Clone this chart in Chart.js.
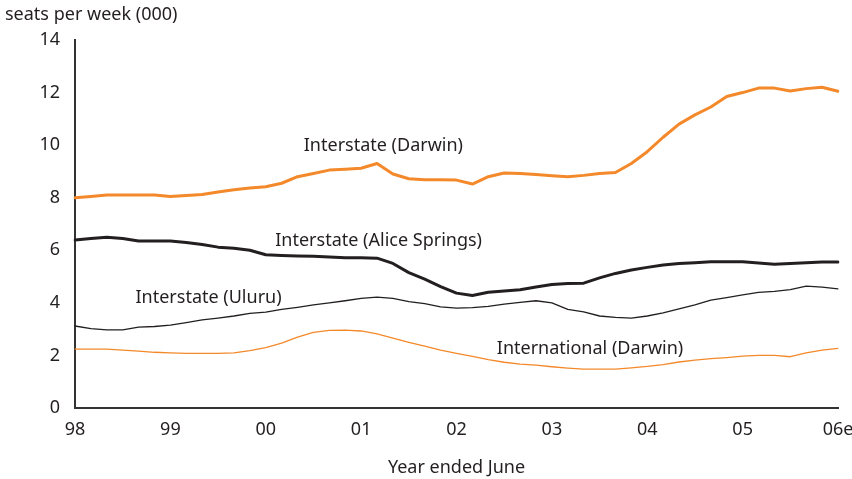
<!DOCTYPE html>
<html>
<head>
<meta charset="utf-8">
<title>Seats per week</title>
<script src="https://cdn.jsdelivr.net/npm/chart.js@4.4.0/dist/chart.umd.min.js"></script>
<style>
    body { margin: 0; background: #fff; }
    #wrap { width: 852px; height: 479px; position: relative; }
</style>
</head>
<body>
<div id="wrap"><canvas id="seatsChart"></canvas></div>
<script>
// two-monthly points, June 1998 to June 2006 (estimate)
const yearLabels = ['98', '99', '00', '01', '02', '03', '04', '05', '06e'];
const pointsPerYear = 6;

const interstateDarwin = [
    8.0, 8.05, 8.1, 8.1, 8.1, 8.1,
    8.05, 8.08, 8.12, 8.22, 8.3, 8.37,
    8.42, 8.55, 8.8, 8.92, 9.05, 9.08,
    9.12, 9.3, 8.9, 8.72, 8.68, 8.68,
    8.67, 8.52, 8.8, 8.94, 8.92, 8.88,
    8.84, 8.8, 8.85, 8.92, 8.96, 9.3,
    9.75, 10.3, 10.8, 11.15, 11.45, 11.85,
    12.0, 12.17, 12.17, 12.06, 12.15, 12.2,
    12.05
];
const interstateAlice = [
    6.39, 6.45, 6.5, 6.45, 6.35, 6.35,
    6.35, 6.3, 6.22, 6.12, 6.08, 6.0,
    5.83, 5.8, 5.78, 5.77, 5.74, 5.72,
    5.72, 5.7, 5.5, 5.15, 4.9, 4.62,
    4.37, 4.28, 4.4, 4.45, 4.5, 4.6,
    4.7, 4.74, 4.75, 4.95, 5.12, 5.25,
    5.35, 5.44, 5.5, 5.53, 5.56, 5.56,
    5.56, 5.52, 5.47, 5.5, 5.53, 5.55,
    5.55
];
const interstateUluru = [
    3.12, 3.02, 2.97, 2.97, 3.08, 3.1,
    3.15, 3.25, 3.35, 3.42, 3.5, 3.6,
    3.65, 3.75, 3.83, 3.92, 4.0, 4.08,
    4.17, 4.22, 4.17, 4.05, 3.97, 3.85,
    3.8, 3.82, 3.87, 3.95, 4.02, 4.08,
    4.0, 3.75, 3.66, 3.5, 3.45, 3.42,
    3.5, 3.62, 3.77, 3.92, 4.1, 4.2,
    4.3, 4.4, 4.44, 4.5, 4.64, 4.6,
    4.53
];
const internationalDarwin = [
    2.24, 2.24, 2.24, 2.2, 2.16, 2.12,
    2.1, 2.08, 2.08, 2.08, 2.1, 2.18,
    2.3, 2.47, 2.7, 2.88, 2.95, 2.96,
    2.93, 2.82, 2.66, 2.5, 2.35, 2.2,
    2.08, 1.96, 1.84, 1.74, 1.67, 1.63,
    1.57, 1.52, 1.48, 1.48, 1.48, 1.53,
    1.58, 1.65, 1.75, 1.82, 1.88, 1.92,
    1.97, 2.0, 2.0, 1.95, 2.1, 2.2,
    2.27
];

const orange = '#f3892a';
const ink = '#231f20';
const fontFamily = '"Noto Sans", "Open Sans", sans-serif';

// x positions: one label per year, blanks in between
const xLabels = interstateDarwin.map((v, i) => i % pointsPerYear === 0 ? yearLabels[i / pointsPerYear] : '');

// series names written next to the lines (index on x, value on y)
const seriesNotes = [
    { text: 'Interstate (Darwin)', idx: 19.4, val: 9.97 },
    { text: 'Interstate (Alice Springs)', idx: 19.1, val: 6.35 },
    { text: 'Interstate (Uluru)', idx: 8.4, val: 4.18 },
    { text: 'International (Darwin)', idx: 32.4, val: 2.24 }
];

const notesPlugin = {
    id: 'notes',
    afterDatasetsDraw(chart) {
        const ctx = chart.ctx;
        const x = chart.scales.x;
        const y = chart.scales.y;
        const step = x.getPixelForValue(1) - x.getPixelForValue(0);
        ctx.save();
        ctx.font = '18px ' + fontFamily;
        ctx.fillStyle = ink;
        ctx.textAlign = 'center';
        ctx.textBaseline = 'middle';
        seriesNotes.forEach(n => {
            ctx.fillText(n.text, x.getPixelForValue(0) + step * n.idx, y.getPixelForValue(n.val));
        });
        // unit label above the value axis
        ctx.textAlign = 'left';
        ctx.fillText('seats per week (000)', 5, 15);
        ctx.restore();
    }
};

const ctx = document.getElementById('seatsChart').getContext('2d');
new Chart(ctx, {
    type: 'line',
    data: {
        labels: xLabels,
        datasets: [
            { label: 'Interstate (Darwin)', data: interstateDarwin, borderColor: orange, borderWidth: 3 },
            { label: 'Interstate (Alice Springs)', data: interstateAlice, borderColor: ink, borderWidth: 3 },
            { label: 'Interstate (Uluru)', data: interstateUluru, borderColor: ink, borderWidth: 1.3 },
            { label: 'International (Darwin)', data: internationalDarwin, borderColor: orange, borderWidth: 1.3 }
        ]
    },
    options: {
        responsive: true,
        maintainAspectRatio: false,
        animation: false,
        layout: { padding: { top: 40, right: 0, bottom: 0, left: 0 } },
        elements: {
            point: { radius: 0 },
            line: { tension: 0, borderCapStyle: 'round', borderJoinStyle: 'round' }
        },
        scales: {
            x: {
                grid: { display: false },
                border: { display: true, color: '#333', width: 2 },
                ticks: {
                    autoSkip: false,
                    maxRotation: 0,
                    padding: 3,
                    color: ink,
                    font: { family: fontFamily, size: 18 }
                },
                title: {
                    display: true,
                    text: 'Year ended June',
                    color: ink,
                    font: { family: fontFamily, size: 18 },
                    padding: { top: 10, bottom: 0 }
                },
                afterFit: s => { s.height = 71; s.paddingRight = 14; }
            },
            y: {
                min: 0,
                max: 14,
                grid: { display: false },
                border: { display: true, color: '#333', width: 2 },
                ticks: {
                    stepSize: 2,
                    padding: 7,
                    color: ink,
                    font: { family: fontFamily, size: 18 }
                },
                afterFit: s => { s.width = 75; }
            }
        },
        plugins: {
            legend: { display: false },
            tooltip: { enabled: false }
        }
    },
    plugins: [notesPlugin]
});
</script>
</body>
</html>
